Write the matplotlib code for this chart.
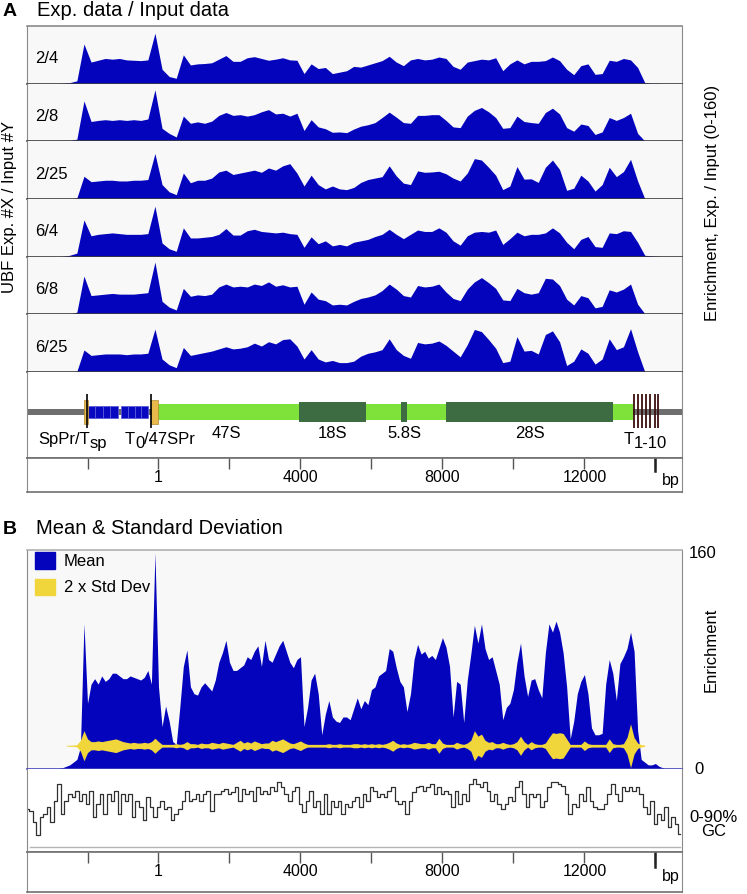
import numpy as np
import matplotlib
matplotlib.use("Agg")
import matplotlib.pyplot as plt
from matplotlib.patches import Rectangle, Patch
from matplotlib.transforms import blended_transform_factory

plt.rcParams['font.family'] = ['Liberation Sans', 'DejaVu Sans']

W, H = 747, 894
BLUE = '#0404bc'
YELLOW = '#f0d63a'
XLIM = (-3705, 14750)

# ---------------- data ----------------
# panel A: enrichment tracks, sampled every 200 bp from -3700 to 14700
bp_a = np.arange(-3700, 14701, 200)
track_names = ["2/4", "2/8", "2/25", "6/4", "6/8", "6/25"]

ubf_2_4 = [0, 0, 0, 0, 0, 1, 3, 8, 110, 60, 65, 70, 68, 70, 66, 65, 64, 66, 140, 40,
           20, 15, 80, 52, 55, 56, 58, 68, 78, 62, 62, 72, 75, 70, 65, 68, 72, 66, 65, 28,
           55, 42, 45, 28, 32, 36, 48,
           46, 52, 58, 64, 76, 60, 50, 66, 70, 66, 68, 74, 70, 48, 40, 60, 64, 68, 66, 72,
           36, 55, 66, 55, 62, 62, 64, 74, 64, 40, 25, 50, 55, 26, 28, 65, 62, 70, 66, 45,
           3, 1, 1, 0, 0, 0]
ubf_2_8 = [0, 0, 0, 0, 0, 0, 2, 6, 112, 55, 58, 60, 58, 60, 58, 60, 58, 62, 143, 36,
           22, 12, 70, 50, 54, 50, 56, 72, 80, 72, 74, 70, 74, 82, 88, 76, 78, 70, 78, 30,
           60, 40, 35, 25, 26, 24, 34,
           42, 46, 52, 66, 81, 67, 52, 50, 72, 72, 74, 74, 58, 40, 38, 70, 86, 94, 82, 66,
           36, 38, 70, 55, 52, 50, 80, 92, 76, 38, 28, 48, 44, 19, 26, 66, 58, 66, 78, 22,
           1, 0, 0, 0, 0, 0]
ubf_2_25 = [0, 0, 0, 0, 0, 0, 0, 3, 63, 48, 50, 52, 52, 50, 50, 52, 52, 54, 126, 40,
            20, 12, 72, 45, 52, 52, 58, 75, 80, 68, 72, 76, 80, 74, 86, 80, 92, 98, 72, 36,
            66, 40, 28, 36, 28, 26, 32,
            46, 54, 58, 62, 92, 64, 44, 40, 78, 74, 75, 77, 70, 58, 50, 72, 112, 108, 88, 66,
            26, 36, 90, 55, 56, 46, 88, 108, 82, 24, 30, 66, 50, 22, 40, 88, 62, 76, 110, 50,
            1, 0, 0, 0, 0, 0]
ubf_6_4 = [0, 0, 0, 0, 0, 1, 4, 10, 102, 58, 62, 64, 66, 64, 62, 62, 62, 64, 140, 38,
           22, 15, 80, 52, 52, 54, 56, 62, 78, 60, 60, 72, 76, 70, 68, 66, 68, 64, 62, 26,
           55, 36, 44, 30, 34, 30, 40,
           44, 48, 56, 62, 76, 62, 50, 62, 74, 70, 70, 80, 68, 44, 32, 58, 68, 70, 68, 74,
           34, 50, 68, 58, 62, 62, 66, 80, 66, 40, 22, 48, 56, 28, 26, 66, 64, 72, 70, 40,
           4, 2, 1, 0, 0, 0]
ubf_6_8 = [0, 0, 0, 0, 0, 0, 1, 6, 106, 52, 54, 56, 58, 56, 56, 56, 58, 60, 145, 36,
           20, 12, 72, 50, 54, 52, 56, 76, 84, 76, 78, 76, 84, 80, 90, 78, 82, 76, 78, 28,
           62, 42, 38, 26, 28, 26, 36,
           44, 48, 54, 66, 84, 70, 52, 48, 80, 76, 78, 84, 62, 44, 38, 70, 90, 102, 88, 72,
           40, 38, 72, 60, 56, 60, 100, 98, 80, 42, 26, 52, 46, 18, 22, 68, 62, 70, 84, 28,
           2, 1, 0, 0, 0, 0]
ubf_6_25 = [0, 0, 0, 0, 0, 0, 0, 2, 61, 46, 48, 50, 50, 50, 48, 50, 50, 52, 119, 36,
            20, 12, 68, 46, 50, 54, 58, 64, 70, 64, 66, 70, 80, 72, 84, 78, 90, 92, 72, 36,
            62, 36, 28, 32, 26, 26, 30,
            44, 52, 56, 62, 92, 62, 46, 38, 82, 78, 80, 86, 74, 58, 42, 76, 118, 112, 90, 66,
            26, 30, 98, 58, 60, 50, 104, 114, 84, 18, 30, 64, 52, 22, 36, 92, 62, 70, 120, 56,
            1, 0, 0, 0, 0, 0]
tracks = [ubf_2_4, ubf_2_8, ubf_2_25, ubf_6_4, ubf_6_8, ubf_6_25]

# panel B: mean, 2 x std dev band half-width, GC; every 100 bp
bp_b = np.arange(-3700, 14701, 100)
mean_enr = [0, 0, 0, 0, 0, 0, 0, 0, 0, 0.5,
            1, 2, 3, 5, 7, 16, 106, 48, 62, 66,
            62, 68, 64, 66, 70, 70, 68, 66, 66, 68,
            67, 66, 65, 67, 72, 62, 158, 60, 31, 46,
            35, 20, 18, 45, 75, 87, 60, 55, 54, 60,
            63, 60, 57, 65, 78, 85, 94, 78, 72, 72,
            74, 76, 82, 80, 86, 90, 75, 94, 80, 78,
            84, 90, 94, 86, 78, 74, 80, 82, 31, 45,
            65, 70, 55, 25, 40, 50, 38, 35, 34, 38,
            38, 36, 44, 52, 44, 50, 47, 58, 60, 68,
            70, 72, 88, 86, 74, 64, 60, 42, 55, 80,
            91, 84, 86, 81, 83, 80, 88, 96, 89, 75,
            38, 64, 62, 34, 65, 84, 105, 92, 106, 88,
            80, 82, 72, 62, 36, 45, 48, 58, 78, 92,
            68, 53, 65, 66, 58, 52, 85, 106, 100, 108,
            100, 85, 60, 22, 35, 55, 64, 69, 55, 30,
            25, 25, 26, 62, 80, 70, 50, 77, 82, 88,
            100, 86, 28, 7, 5, 3, 3, 4, 2, 1,
            0, 0, 0, 0, 0]
sd_band = [0, 0, 0, 0, 0, 0, 0, 0, 0, 0,
           0, 0.3, 0.4, 0.5, 0.8, 4, 11, 5, 3, 3,
           3.5, 3, 3.5, 4, 4.5, 5, 4, 3, 2.5, 2,
           2.5, 2, 2, 2.5, 2, 3, 5.5, 3, 1, 1,
           1, 1, 1.5, 1, 1.5, 3, 1.5, 1.5, 1, 2,
           1.5, 1.5, 2.5, 2, 1.5, 2.5, 2, 1.5, 1, 2.5,
           4, 2, 3, 2, 3.5, 2.5, 1.5, 2, 2, 4,
           3, 4, 5, 3.5, 2, 1.5, 2.5, 3.5, 2, 1,
           1, 1, 1, 1, 1, 1.5, 1, 1, 1.5, 1,
           1, 1, 1.5, 1.5, 1, 1.5, 1, 1.5, 1, 1.5,
           1, 1.5, 2.5, 4, 2, 1, 1.5, 1, 1.5, 2.5,
           2, 1.5, 1.5, 2.5, 1.5, 1.5, 5.5, 2, 1, 1,
           1, 2.5, 1.5, 1, 2, 4, 11, 7, 8.5, 4,
           2.5, 3, 1.5, 1.5, 2.5, 1.5, 1, 1.5, 3, 7,
           3, 1, 3, 1.5, 1, 1, 2, 6, 9.5, 9,
           9.5, 9, 5, 1, 1, 1, 1, 3.5, 1.5, 1,
           1, 1, 1, 1, 5, 1.5, 1, 1, 1.5, 6,
           16, 6, 2, 0.8, 0.5, 0, 0, 0, 0, 0,
           0, 0, 0, 0, 0]
sd_center = 17
gc_pct = [46, 44, 30, 14, 36, 40, 48, 30, 56, 76,
          40, 56, 64, 60, 68, 56, 64, 52, 68, 36,
          52, 64, 40, 64, 56, 68, 40, 64, 56, 64,
          36, 56, 48, 32, 60, 48, 36, 48, 56, 46,
          48, 32, 40, 46, 56, 68, 56, 58, 64, 56,
          64, 68, 44, 64, 64, 68, 70, 64, 66, 72,
          56, 70, 64, 68, 56, 72, 64, 68, 64, 72,
          68, 78, 72, 64, 56, 68, 72, 52, 42, 56,
          68, 48, 56, 40, 64, 40, 56, 48, 56, 40,
          52, 48, 56, 60, 48, 64, 56, 72, 68, 60,
          64, 60, 68, 72, 56, 52, 56, 40, 56, 66,
          72, 74, 68, 72, 76, 64, 72, 64, 68, 64,
          48, 68, 52, 64, 56, 76, 82, 76, 72, 78,
          68, 56, 64, 52, 46, 52, 60, 56, 72, 80,
          64, 48, 64, 60, 64, 48, 56, 72, 78, 78,
          76, 74, 64, 40, 52, 48, 64, 56, 72, 56,
          48, 46, 46, 52, 64, 76, 64, 56, 72, 68,
          72, 68, 72, 64, 48, 40, 56, 28, 40, 32,
          48, 24, 36, 28, 16]

axis_ticks = [-2000, 0, 2000, 4000, 6000, 8000, 10000, 12000, 14000]
axis_labels = ["", "1", "", "4000", "", "8000", "", "12000", ""]

# rDNA map (bp)
sp_promoter = (-2110, -1975)
t_sp = -2005
spacer_repeats = [(-1980, -1775), (-1775, -1565), (-1565, -1360), (-1360, -1155),
                  (-1050, -860), (-860, -670), (-670, -480), (-480, -290)]
t_0 = -214
promoter_47s = (-200, -28)
pre_rrna_47s = (0, 13380)
mature_rrna = {"18S": (3970, 5850), "5.8S": (6835, 7006), "28S": (8100, 12810)}
terminators = [13400, 13510, 13610, 13730, 13860, 13990, 14075]

# ---------------- layout helpers ----------------
fig = plt.figure(figsize=(W / 100, H / 100), dpi=100)
renderer = fig.canvas.get_renderer()


def add_ax(x0, y0, x1, y1):
    return fig.add_axes([x0 / W, 1 - y1 / H, (x1 - x0) / W, (y1 - y0) / H])


def ftext(x, y, s, **kw):
    return fig.text(x / W, 1 - y / H, s, **kw)


def sub_label(x, y, parts, size=12):
    # parts: list of (text, is_subscript); placed one after another
    for s, is_sub in parts:
        t = ftext(x, y + (4 if is_sub else 0), s, fontsize=size, va='center')
        x = t.get_window_extent(renderer).x1


def frame(ax, top=None, bottom=None, side='#8a8a8a'):
    ax.spines['left'].set_color(side)
    ax.spines['right'].set_color(side)
    for key, col in (('top', top), ('bottom', bottom)):
        if col is None:
            ax.spines[key].set_visible(False)
        else:
            ax.spines[key].set_color(col)
            ax.spines[key].set_linewidth(1.2)
    ax.set_xticks([])
    ax.set_yticks([])


def axis_strip(y0, y1, lab_frac, bp_y):
    ax = add_ax(27, y0, 682, y1)
    ax.set_xlim(XLIM)
    ax.set_ylim(0, 1)
    frame(ax, top='#707070', bottom='#707070')
    ax.set_xticks(axis_ticks)
    ax.tick_params(axis='x', direction='in', top=True, bottom=False,
                   labelbottom=False, length=8, width=1, color='#555555')
    trans = blended_transform_factory(ax.transData, ax.transAxes)
    for t, lab in zip(axis_ticks, axis_labels):
        if lab:
            ax.text(t, lab_frac, lab, transform=trans, ha='center', va='center', fontsize=11.5)
    ax.axvline(axis_ticks[-1], ymin=0.62, ymax=1, color='#222222', lw=1.8)
    ftext(671, bp_y, 'bp', ha='center', va='center', fontsize=11.5)
    return ax


# ---------------- panel A ----------------
ftext(3, 16.5, 'A', fontsize=14, fontweight='bold', va='baseline')
ftext(37, 16.5, 'Exp. data / Input data', fontsize=14.5, va='baseline')

edges = [26, 83.7, 141.3, 199, 256.7, 314.3, 372]
for i, (name, vals) in enumerate(zip(track_names, tracks)):
    ax = add_ax(27, edges[i], 682, edges[i + 1])
    ax.set_facecolor('#f8f8f8')
    ax.fill_between(bp_a, vals, color=BLUE, lw=0)
    ax.set_xlim(XLIM)
    ax.set_ylim(0, 160)
    frame(ax, top='#8a8a8a' if i == 0 else None, bottom='#3c3c3c')
    ax.text(0.012, 0.43, name, transform=ax.transAxes, fontsize=12, va='center')

# rDNA map
axg = add_ax(27, 372, 682, 458)
axg.set_xlim(XLIM)
axg.set_ylim(86, 0)
frame(axg, bottom='#707070')
axg.axhspan(37, 42.7, color='#6e6e6e', lw=0)
x0, x1 = pre_rrna_47s
axg.add_patch(Rectangle((x0, 32), x1 - x0, 15.7, color='#7ee23a', lw=0))
for name, (a, b) in mature_rrna.items():
    axg.add_patch(Rectangle((a, 29.7), b - a, 20.6, color='#3d6b42', lw=0))
for a, b in spacer_repeats:
    axg.add_patch(Rectangle((a, 33.7), b - a, 12.3, facecolor='#0808c0',
                            edgecolor='#5a5ad8', lw=0.6))
for a, b in (sp_promoter, promoter_47s):
    axg.add_patch(Rectangle((a, 27.7), b - a, 24, facecolor='#e9b94c',
                            edgecolor='#b08a30', lw=0.5))
axg.vlines([t_sp, t_0], 22.3, 56, color='black', lw=1.2)
axg.vlines(terminators, 22.3, 56, color='#3b0f0f', lw=1.3)

sub_label(38, 439.5, [('SpPr/T', False), ('sp', True)])
sub_label(125, 439.5, [('T', False), ('0', True), ('/47SPr', False)])
ftext(226, 433, '47S', ha='center', va='center', fontsize=12)
for name, (a, b) in mature_rrna.items():
    xc = 158.5 + 0.035494 * (a + b) / 2
    ftext(xc, 433, name, ha='center', va='center', fontsize=12)
sub_label(624, 439.5, [('T', False), ('1-10', True)])

axis_strip(458, 492, 0.44, 481)

ftext(10, 207, 'UBF Exp. #X / Input #Y', rotation=90, ha='center', va='center', fontsize=12)
ftext(712, 202.5, 'Enrichment, Exp. / Input (0-160)', rotation=90, ha='center',
      va='center', fontsize=12)

# ---------------- panel B ----------------
ftext(3, 533.5, 'B', fontsize=14, fontweight='bold', va='baseline')
ftext(36, 533.5, 'Mean & Standard Deviation', fontsize=14.5, va='baseline')

axm = add_ax(27, 550, 682, 769)
axm.set_facecolor('#f8f8f8')
axm.fill_between(bp_b, mean_enr, color=BLUE, lw=0)
sd = np.array(sd_band)
axm.fill_between(bp_b, sd_center - sd, sd_center + sd, where=sd > 0, color=YELLOW, lw=0)
axm.set_xlim(XLIM)
axm.set_ylim(0, 160)
frame(axm, top='#b0b0b0', bottom='#4646c0')
axm.legend([Patch(color=BLUE), Patch(color=YELLOW)], ['Mean', '2 x Std Dev'],
           loc='upper left', bbox_to_anchor=(0.009, 1.0), frameon=False, fontsize=12,
           handlelength=1.2, handleheight=1.15, handletextpad=0.5, labelspacing=0.55,
           borderaxespad=0.05, borderpad=0.1)

ftext(689, 553, '160', fontsize=12, va='center')
ftext(694, 769, '0', fontsize=12, va='center')
ftext(711, 650, 'Enrichment', rotation=90, ha='center', va='center', fontsize=12)

axc = add_ax(27, 769, 682, 852)
axc.step(bp_b, gc_pct, where='mid', color='#303030', lw=0.9)
axc.axhline(0, xmin=0.005, xmax=0.997, color='#b4b4b4', lw=1)
axc.set_xlim(XLIM)
axc.set_ylim(-6, 94)
frame(axc, bottom='#8a8a8a')
ftext(713, 817, '0-90%', ha='center', va='center', fontsize=12)
ftext(714, 832, 'GC', ha='center', va='center', fontsize=12)

axis_strip(852, 892, 0.5, 876)

fig.savefig('out.png', dpi=100, facecolor='white')
